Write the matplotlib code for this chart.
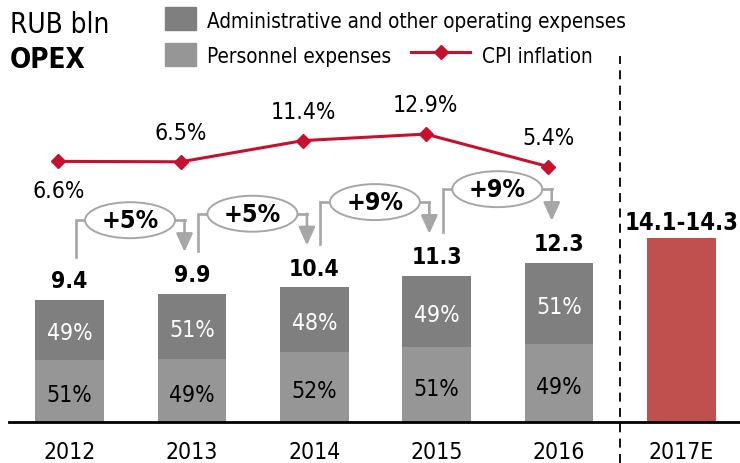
import matplotlib
matplotlib.use('Agg')
import matplotlib.pyplot as plt
from matplotlib.patches import Ellipse, Rectangle
from matplotlib.lines import Line2D

plt.rcParams['font.family'] = ['DejaVu Sans']
plt.rcParams['font.stretch'] = 'condensed'

# OPEX, RUB bln
years = ['2012', '2013', '2014', '2015', '2016', '2017E']
opex_total = [9.4, 9.9, 10.4, 11.3, 12.3]
personnel_pct = [51, 49, 52, 51, 49]
admin_pct = [49, 51, 48, 49, 51]
cpi = [6.6, 6.5, 11.4, 12.9, 5.4]
opex_2017_low = 14.1
opex_2017_high = 14.3

c_admin = '#7f7f7f'
c_pers = '#969696'
c_cpi = '#c8102e'
c_fcst = '#c0504d'
c_bracket = '#a6a6a6'

W, H = 740, 464
fig = plt.figure(figsize=(W / 100, H / 100), dpi=100)
ax = fig.add_axes([9 / W, 41 / H, 731 / W, 423 / H])

n = len(opex_total)
x = list(range(n))
pers = [t * p / 100 for t, p in zip(opex_total, personnel_pct)]
adm = [t * a / 100 for t, a in zip(opex_total, admin_pct)]

bw = 0.56
ax.bar(x, pers, bw, color=c_pers, zorder=2)
ax.bar(x, adm, bw, bottom=pers, color=c_admin, zorder=2)
fc_mid = (opex_2017_low + opex_2017_high) / 2
ax.bar([n], [fc_mid], bw, color=c_fcst, zorder=2)

ax.set_xlim(-0.494, 5.478)
ax.set_ylim(0, 32.7)
for s in ['top', 'left', 'right']:
    ax.spines[s].set_visible(False)
ax.spines['bottom'].set_linewidth(2)
ax.set_yticks([])
ax.set_xticks(range(len(years)))
ax.set_xticklabels(years, fontsize=16.5)
ax.tick_params(axis='x', length=0, pad=13)

# share labels inside the bars
for i in x:
    ax.annotate(f'{personnel_pct[i]}%', (i, pers[i] / 2), xytext=(0, -2.5),
                textcoords='offset points', ha='center', va='center',
                fontsize=16.5, color='black', zorder=3)
    ax.annotate(f'{admin_pct[i]}%', (i, pers[i] + adm[i] / 2), xytext=(0, -2),
                textcoords='offset points', ha='center', va='center',
                fontsize=16.5, color='white', zorder=3)

# totals
for i in x:
    ax.annotate(f'{opex_total[i]:.1f}', (i, opex_total[i]), xytext=(0, 14),
                textcoords='offset points', ha='center', va='center',
                fontsize=16.5, fontweight='bold')
ax.annotate(f'{opex_2017_low}-{opex_2017_high}', (n, fc_mid), xytext=(0, 12),
            textcoords='offset points', ha='center', va='center',
            fontsize=17, fontweight='bold')

# growth brackets
for i in range(n - 1):
    g = round((opex_total[i + 1] / opex_total[i] - 1) * 100)
    left = i + 0.05
    right = i + 1 - 0.06
    y0 = opex_total[i] + 3.35
    tip = opex_total[i + 1] + 3.25
    top = opex_total[i + 1] + 5.7
    ax.plot([left, left, right], [y0, top, top], color=c_bracket, lw=1.9,
            solid_joinstyle='miter', zorder=3)
    ax.annotate('', xy=(right, tip), xytext=(right, top),
                arrowprops=dict(arrowstyle='-|>,head_width=0.25,head_length=0.55',
                                mutation_scale=20, color=c_bracket, lw=1.9,
                                shrinkA=0, shrinkB=0), zorder=3)
    cx = (left + right) / 2
    ax.add_patch(Ellipse((cx, top), 0.735, 2.78, facecolor='white',
                         edgecolor=c_bracket, lw=1.4, zorder=4))
    ax.text(cx, top, f'+{g}%', ha='center', va='center', fontsize=18,
            fontweight='bold', zorder=5)

# forecast separator
ax.plot([4.5, 4.5], [-0.097, 0.865], transform=ax.get_xaxis_transform(),
        color='black', lw=1.3, ls=(0, (5, 3.5)), clip_on=False, zorder=1)

# CPI inflation on its own scale
ax2 = ax.twinx()
ax2.set_ylim(-53.6, 44.1)
ax2.axis('off')
cx_cpi = [i - 0.09 for i in x]
ax2.plot(cx_cpi, cpi, color=c_cpi, lw=2.2, marker='D', ms=7, zorder=3)
for i in x:
    dy = -21 if i == 0 else 21
    ax2.annotate(f'{cpi[i]}%', (cx_cpi[i], cpi[i]), xytext=(0, dy),
                 textcoords='offset points', ha='center', va='center', fontsize=16.5)


def fx(px):
    return px / W


def fy(py):
    return 1 - py / H


# header
fig.text(fx(10), fy(33), 'RUB bln', fontsize=20, va='baseline')
fig.text(fx(10), fy(68), 'OPEX', fontsize=20, fontweight='bold', va='baseline')

# legend
fig.patches.append(Rectangle((fx(165), fy(31)), 31 / W, 23 / H, color=c_admin,
                             transform=fig.transFigure, figure=fig))
fig.patches.append(Rectangle((fx(165), fy(67)), 31 / W, 23 / H, color=c_pers,
                             transform=fig.transFigure, figure=fig))
fig.text(fx(207), fy(28), 'Administrative and other operating expenses',
         fontsize=14.9, va='baseline')
fig.text(fx(207), fy(63), 'Personnel expenses', fontsize=14.9, va='baseline')
fig.lines.append(Line2D([fx(411), fx(470)], [fy(53), fy(53)], color=c_cpi, lw=2.2,
                        transform=fig.transFigure, figure=fig))
fig.lines.append(Line2D([fx(440.5)], [fy(53)], color=c_cpi, marker='D', ms=7,
                        transform=fig.transFigure, figure=fig))
fig.text(fx(482), fy(63), 'CPI inflation', fontsize=14.9, va='baseline')

fig.savefig('out.png', dpi=100)
